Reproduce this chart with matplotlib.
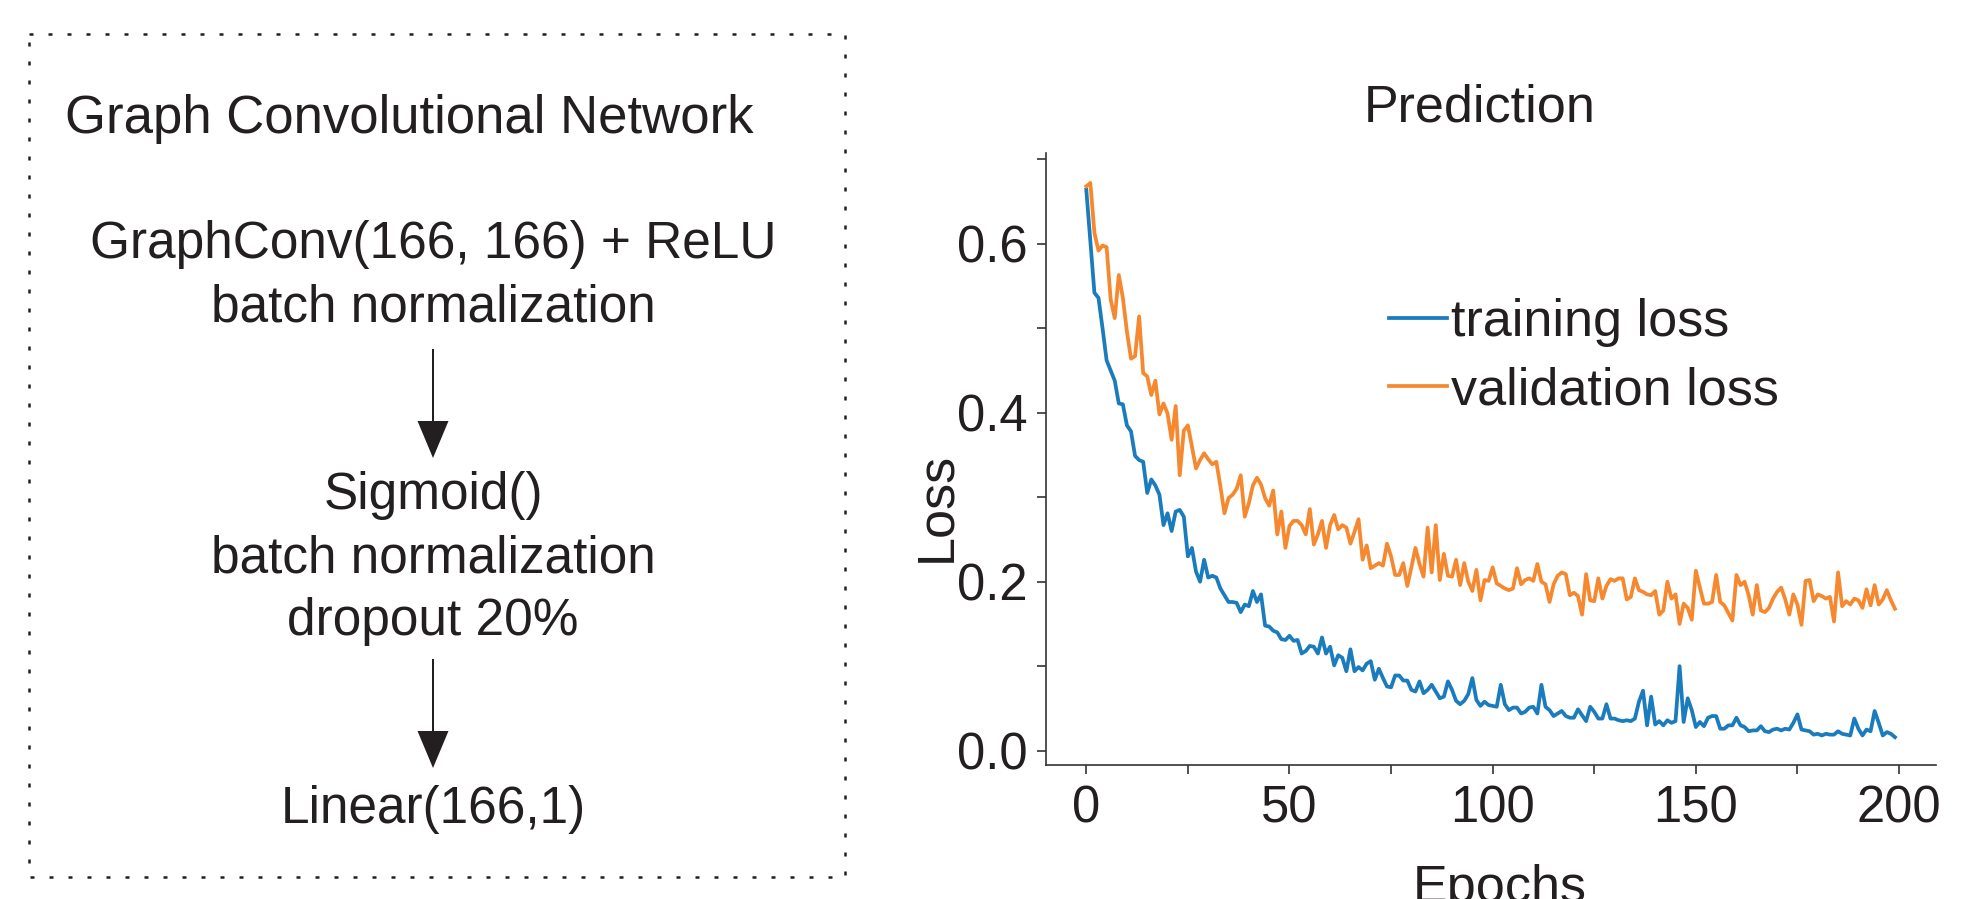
import matplotlib
matplotlib.use("Agg")
import matplotlib.pyplot as plt
import matplotlib.patches as patches
import numpy as np

plt.rcParams['font.family'] = ['Liberation Sans', 'DejaVu Sans']

# loss curves (one value per epoch, 0..199)
training_loss = [
    0.664, 0.603, 0.542, 0.536, 0.500, 0.462, 0.450, 0.438, 0.411, 0.410,
    0.385, 0.378, 0.349, 0.344, 0.342, 0.305, 0.321, 0.314, 0.303, 0.267,
    0.281, 0.260, 0.283, 0.285, 0.277, 0.230, 0.240, 0.212, 0.200, 0.226,
    0.205, 0.207, 0.205, 0.192, 0.184, 0.176, 0.176, 0.175, 0.164, 0.173,
    0.171, 0.189, 0.176, 0.185, 0.148, 0.147, 0.142, 0.140, 0.132, 0.131,
    0.136, 0.130, 0.131, 0.115, 0.118, 0.124, 0.123, 0.115, 0.134, 0.115,
    0.123, 0.101, 0.113, 0.110, 0.094, 0.120, 0.094, 0.099, 0.095, 0.103,
    0.106, 0.084, 0.097, 0.086, 0.076, 0.075, 0.089, 0.089, 0.083, 0.083,
    0.072, 0.070, 0.082, 0.068, 0.072, 0.078, 0.070, 0.062, 0.064, 0.082,
    0.072, 0.059, 0.055, 0.059, 0.067, 0.086, 0.060, 0.053, 0.058, 0.054,
    0.053, 0.052, 0.078, 0.055, 0.048, 0.051, 0.051, 0.044, 0.046, 0.051,
    0.052, 0.044, 0.078, 0.052, 0.048, 0.041, 0.044, 0.047, 0.041, 0.039,
    0.039, 0.049, 0.042, 0.035, 0.052, 0.046, 0.038, 0.038, 0.055, 0.038,
    0.038, 0.036, 0.035, 0.036, 0.035, 0.038, 0.058, 0.071, 0.030, 0.064,
    0.031, 0.035, 0.030, 0.036, 0.033, 0.035, 0.100, 0.034, 0.062, 0.048,
    0.028, 0.034, 0.029, 0.039, 0.041, 0.041, 0.026, 0.026, 0.030, 0.030,
    0.039, 0.030, 0.028, 0.023, 0.024, 0.024, 0.029, 0.023, 0.022, 0.025,
    0.026, 0.024, 0.026, 0.025, 0.033, 0.043, 0.025, 0.024, 0.023, 0.019,
    0.020, 0.018, 0.020, 0.019, 0.019, 0.023, 0.020, 0.019, 0.018, 0.038,
    0.026, 0.018, 0.025, 0.023, 0.047, 0.033, 0.018, 0.022, 0.020, 0.016,
]
validation_loss = [
    0.668, 0.672, 0.613, 0.592, 0.598, 0.596, 0.534, 0.512, 0.563, 0.536,
    0.496, 0.464, 0.467, 0.514, 0.447, 0.443, 0.421, 0.438, 0.398, 0.411,
    0.399, 0.368, 0.408, 0.326, 0.379, 0.385, 0.360, 0.334, 0.344, 0.352,
    0.345, 0.339, 0.342, 0.313, 0.281, 0.299, 0.303, 0.310, 0.326, 0.277,
    0.293, 0.314, 0.323, 0.315, 0.299, 0.290, 0.308, 0.256, 0.283, 0.240,
    0.266, 0.272, 0.272, 0.267, 0.256, 0.286, 0.244, 0.256, 0.272, 0.240,
    0.267, 0.279, 0.262, 0.267, 0.264, 0.245, 0.259, 0.274, 0.226, 0.243,
    0.216, 0.219, 0.222, 0.219, 0.245, 0.230, 0.208, 0.208, 0.222, 0.195,
    0.217, 0.240, 0.221, 0.206, 0.264, 0.211, 0.267, 0.202, 0.233, 0.207,
    0.206, 0.226, 0.196, 0.222, 0.200, 0.189, 0.214, 0.178, 0.202, 0.201,
    0.217, 0.198, 0.195, 0.192, 0.190, 0.192, 0.216, 0.197, 0.202, 0.204,
    0.201, 0.221, 0.200, 0.197, 0.176, 0.197, 0.207, 0.211, 0.209, 0.184,
    0.187, 0.183, 0.161, 0.209, 0.178, 0.177, 0.204, 0.180, 0.195, 0.203,
    0.201, 0.204, 0.204, 0.179, 0.182, 0.204, 0.190, 0.188, 0.185, 0.184,
    0.189, 0.161, 0.166, 0.200, 0.180, 0.185, 0.150, 0.174, 0.169, 0.155,
    0.213, 0.193, 0.174, 0.174, 0.176, 0.208, 0.176, 0.172, 0.163, 0.154,
    0.208, 0.196, 0.200, 0.184, 0.161, 0.196, 0.166, 0.164, 0.169, 0.180,
    0.188, 0.193, 0.179, 0.161, 0.185, 0.173, 0.149, 0.201, 0.202, 0.177,
    0.185, 0.183, 0.180, 0.182, 0.153, 0.211, 0.171, 0.177, 0.173, 0.180,
    0.178, 0.169, 0.191, 0.172, 0.196, 0.173, 0.179, 0.190, 0.178, 0.168,
]
epochs = np.arange(len(training_loss))

series_labels = ["training loss", "validation loss"]
series_colors = ["#1b7cbd", "#f6892f"]

x_major = [0, 50, 100, 150, 200]
x_minor = [25, 75, 125, 175]
y_major = [0.0, 0.2, 0.4, 0.6]
y_minor = [0.1, 0.3, 0.5, 0.7]

# text of the network diagram on the left
box_title = "Graph Convolutional Network"
block_lines = [
    ["GraphConv(166, 166) + ReLU", "batch normalization"],
    ["Sigmoid()", "batch normalization", "dropout 20%"],
    ["Linear(166,1)"],
]

ink = "#231f20"
axis_gray = "#333333"
W, H = 1978, 899

fig = plt.figure(figsize=(W / 100, H / 100), dpi=100)

# --- left panel: drawn in pixel coordinates ---
dia = fig.add_axes([0, 0, 1, 1])
dia.set_xlim(0, W)
dia.set_ylim(H, 0)
dia.axis("off")

dia.add_patch(patches.Rectangle((29.3, 34.3), 815.7, 842.7, fill=False,
                                ec=ink, lw=1.8, ls=(0, (1.6, 6))))
dia.text(65, 133, box_title, fontsize=38, color=ink, ha="left", va="baseline")

cx = 433
baselines = [[258, 321], [508.5, 572.8, 634.8], [822.5]]
for lines, ys in zip(block_lines, baselines):
    for s, y in zip(lines, ys):
        dia.text(cx, y, s, fontsize=37, color=ink, ha="center", va="baseline")

for y0, y1 in [(349, 458), (659, 768)]:
    dia.arrow(cx, y0, 0, y1 - y0, width=2, head_width=31, head_length=37,
              length_includes_head=True, fc=ink, ec=ink, lw=0)

# --- right panel: loss plot ---
left, right, top, bottom = 1046.3, 1936.0, 153.3, 765.3
ax = fig.add_axes([left / W, (H - bottom) / H, (right - left) / W, (bottom - top) / H])

ax.plot(epochs, training_loss, color=series_colors[0], lw=2.7, label=series_labels[0])
ax.plot(epochs, validation_loss, color=series_colors[1], lw=2.7, label=series_labels[1])

ax.set_xlim(-9.84, 209.1)
ax.set_ylim(-0.0173, 0.7071)
ax.set_xticks(x_major)
ax.set_xticks(x_minor, minor=True)
ax.set_yticks(y_major)
ax.set_yticks(y_minor, minor=True)
ax.set_yticklabels([f"{v:.1f}" for v in y_major])

for s in ["top", "right"]:
    ax.spines[s].set_visible(False)
for s in ["left", "bottom"]:
    ax.spines[s].set_color(axis_gray)
    ax.spines[s].set_linewidth(1.2)

ax.tick_params(which="both", length=6.5, width=1.2, color=axis_gray,
               labelsize=36.5, labelcolor=ink, pad=7)

leg = ax.legend(loc="center left", bbox_to_anchor=(0.3855, 0.668), frameon=False,
                fontsize=37.5, handlelength=1.1, handletextpad=0.08,
                borderaxespad=0, borderpad=0, labelspacing=0.37)
for t in leg.get_texts():
    t.set_color(ink)

fig.text(1479.7 / W, 1 - 121.7 / H, "Prediction", fontsize=37.5, color=ink,
         ha="center", va="baseline")
fig.text(937 / W, 1 - 506.5 / H, "Loss", fontsize=37.5, color=ink,
         ha="center", va="center", rotation=90)
fig.text(1500 / W, 1 - 902 / H, "Epochs", fontsize=37.5, color=ink,
         ha="center", va="baseline")

fig.savefig("out.png", dpi=100)
